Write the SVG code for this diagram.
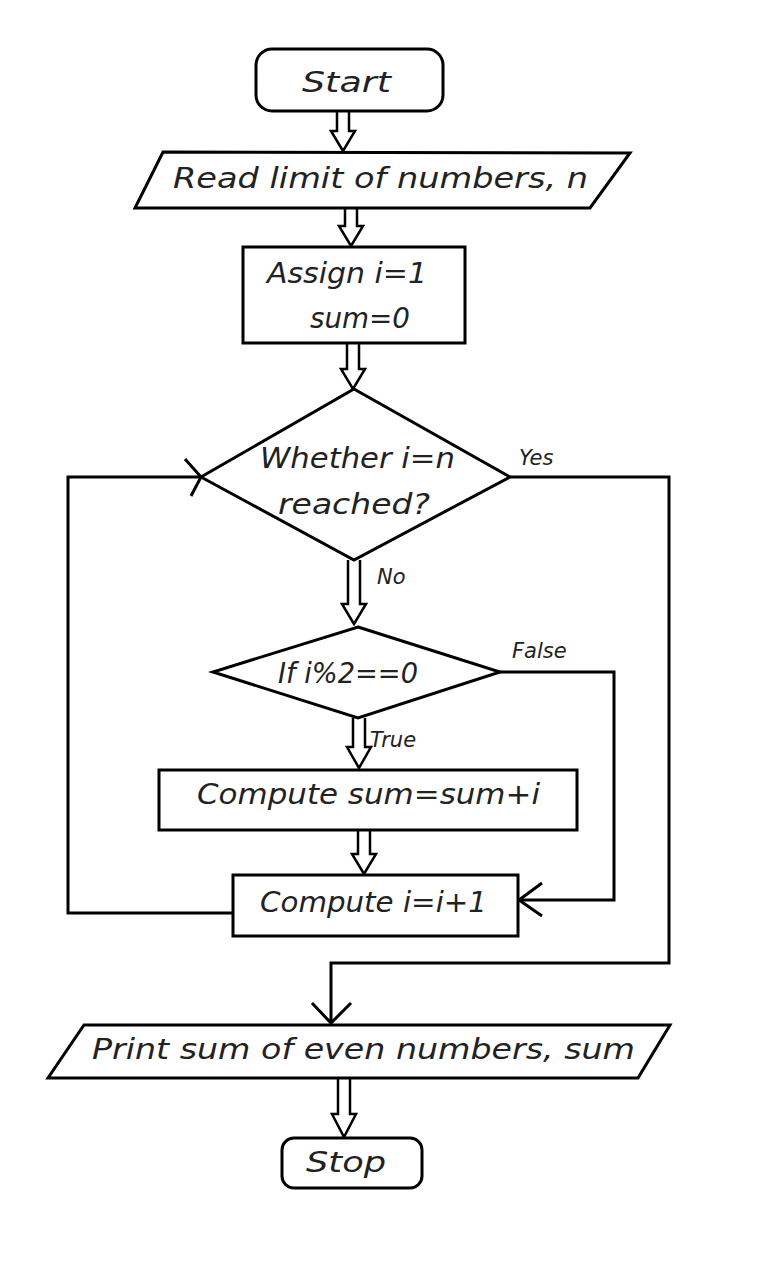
<svg xmlns="http://www.w3.org/2000/svg" width="759" height="1280" viewBox="0 0 759 1280">
  <style>
    .shape { fill: #ffffff; stroke: #000000; stroke-width: 3; stroke-linejoin: miter; }
    .line { fill: none; stroke: #000000; stroke-width: 3; }
    .blk { fill: #ffffff; stroke: #000000; stroke-width: 2.5; stroke-linejoin: miter; }
    .t { font-family: "DejaVu Sans", "Liberation Sans", sans-serif; font-style: oblique; font-size: 28px; fill: #222222; }
    .lbl { font-family: "DejaVu Sans", "Liberation Sans", sans-serif; font-style: oblique; font-size: 21px; fill: #222222; }
  </style>

  <rect width="759" height="1280" fill="#ffffff"/>

  <!-- connectors: block arrows between steps, plain lines for the loops -->
  <g id="connectors">
    <path class="blk" d="M337,110 V131 H331 L343,151 L355,131 H349 V110"/>
    <path class="blk" d="M345,209 V226 H339 L351,246 L363,226 H357 V209"/>
    <path class="blk" d="M347,343 V369 H341 L353,389 L365,369 H359 V343"/>
    <path class="blk" d="M348,560 V604 H342 L354,624 L366,604 H360 V560"/>
    <path class="blk" d="M353,718 V747 H347 L359,768 L371,747 H365 V718"/>
    <path class="blk" d="M358,830 V854 H352 L364,874 L376,854 H370 V830"/>
    <path class="blk" d="M338,1078 V1114 H332 L344,1137 L356,1114 H350 V1078"/>

    <!-- back edge: i=i+1 to the loop test -->
    <polyline class="line" points="233,913 68,913 68,477 201,477"/>
    <polyline class="line" points="185,459 201,477 191,496"/>

    <!-- Yes: leave loop and print -->
    <polyline class="line" points="510,477 669,477 669,963 331,963 331,1023"/>
    <polyline class="line" points="312,1003 331,1023 351,1003"/>

    <!-- False: skip the sum update -->
    <polyline class="line" points="500,672 614,672 614,900 519,900"/>
    <polyline class="line" points="542,883 519,900 542,916"/>

    <text class="lbl" x="519" y="465">Yes</text>
    <text class="lbl" x="377" y="584">No</text>
    <text class="lbl" x="512" y="658">False</text>
    <text class="lbl" x="370" y="747">True</text>
  </g>

  <g id="start">
    <rect class="shape" x="256" y="49" width="187" height="62" rx="16"/>
    <text class="t" x="302" y="92" textLength="89" lengthAdjust="spacingAndGlyphs">Start</text>
  </g>

  <g id="read-n">
    <polygon class="shape" points="163,152 630,153 590,208 135,208"/>
    <text class="t" x="173" y="188" textLength="415" lengthAdjust="spacingAndGlyphs">Read limit of numbers, n</text>
  </g>

  <g id="assign">
    <rect class="shape" x="243" y="247" width="222" height="96"/>
    <text class="t" x="267" y="283" textLength="160" lengthAdjust="spacingAndGlyphs">Assign i=1</text>
    <text class="t" x="310" y="328" textLength="100" lengthAdjust="spacingAndGlyphs">sum=0</text>
  </g>

  <g id="test-limit">
    <polygon class="shape" points="354,389 510,477 354,560 201,477"/>
    <text class="t" x="260" y="468" textLength="195" lengthAdjust="spacingAndGlyphs">Whether i=n</text>
    <text class="t" x="278" y="514" textLength="152" lengthAdjust="spacingAndGlyphs">reached?</text>
  </g>

  <g id="test-even">
    <polygon class="shape" points="358,627 500,672 358,718 213,672"/>
    <text class="t" x="278" y="683" textLength="140" lengthAdjust="spacingAndGlyphs">If i%2==0</text>
  </g>

  <g id="add-sum">
    <rect class="shape" x="159" y="770" width="418" height="60"/>
    <text class="t" x="197" y="804" textLength="343" lengthAdjust="spacingAndGlyphs">Compute sum=sum+i</text>
  </g>

  <g id="increment">
    <rect class="shape" x="233" y="875" width="285" height="61"/>
    <text class="t" x="260" y="912" textLength="227" lengthAdjust="spacingAndGlyphs">Compute i=i+1</text>
  </g>

  <g id="print-sum">
    <polygon class="shape" points="84,1025 670,1025 638,1078 48,1078"/>
    <text class="t" x="92" y="1059" textLength="543" lengthAdjust="spacingAndGlyphs">Print sum of even numbers, sum</text>
  </g>

  <g id="stop">
    <rect class="shape" x="282" y="1138" width="140" height="50" rx="12"/>
    <text class="t" x="306" y="1172" textLength="80" lengthAdjust="spacingAndGlyphs">Stop</text>
  </g>
</svg>
